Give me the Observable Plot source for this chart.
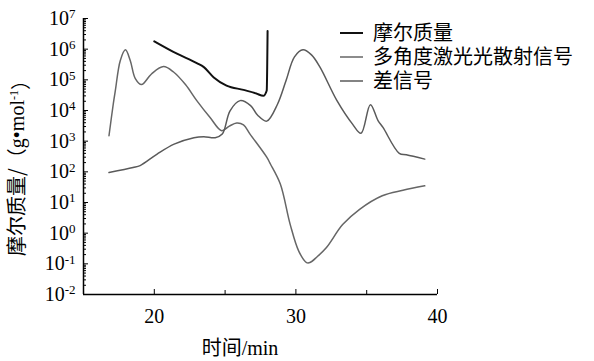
<!DOCTYPE html>
<html>
<head>
<meta charset="utf-8">
<script src="https://cdn.jsdelivr.net/npm/d3@7"></script>
<script src="https://cdn.jsdelivr.net/npm/@observablehq/plot@0.6"></script>
<style>
  html, body { margin: 0; padding: 0; background: #fff; }
  #chart svg { display: block; }
</style>
</head>
<body>
<div id="chart"></div>
<script>
// ---- data ----
const xDomain = [15, 40];
const yDomain = [1e-2, 1e7];
const xTicks = [20, 30, 40];
const xMinorTicks = [25, 35];
const yExponents = [-2, -1, 0, 1, 2, 3, 4, 5, 6, 7];

const seriesNames = ["摩尔质量", "多角度激光光散射信号", "差信号"];
const seriesColors = ["#111111", "#666666", "#5a5a5a"];

// 摩尔质量
const massTime  = [20.0, 21.6, 23.0, 23.5, 24.2, 25.1, 26.3, 27.2, 27.7, 27.94, 28.0];
const massValue = [1.8e6, 7.1e5, 3.5e5, 2.6e5, 1.2e5, 6.5e4, 4.7e4, 3.6e4, 3.0e4, 4.5e4, 3.9e6];

// 多角度激光光散射信号
const mallsTime  = [16.8, 17.1, 17.25, 17.6, 17.96, 18.3, 18.66, 19.1, 19.8, 20.65, 21.36, 22.2, 23.0, 23.94, 24.76, 25.3, 25.82, 26.3, 26.76, 27.94, 28.2, 28.9, 29.6, 30.2, 30.75, 30.99, 31.5, 32.16, 33.3, 34.5, 36.1, 37.56, 39.1];
const mallsValue = [1.5e3, 1.6e4, 4.5e4, 4.3e5, 9.5e5, 4.3e5, 1.1e5, 7e4, 1.55e5, 2.7e5, 1.8e5, 7e4, 2.1e4, 5.9e3, 2.2e3, 3.1e3, 3.9e3, 3.4e3, 1.7e3, 3.0e2, 1.8e2, 40, 1.9, 0.26, 0.11, 0.11, 0.17, 0.34, 1.9, 6, 16.6, 25, 35];

// 差信号
const diffTime  = [16.8, 18.5, 19.0, 20.2, 21.4, 22.8, 23.5, 24.3, 24.8, 25.35, 26.06, 26.8, 27.3, 27.94, 28.7, 29.3, 29.9, 30.5, 31.1, 31.7, 32.9, 34.0, 34.6, 35.26, 35.8, 36.15, 37.3, 37.8, 39.1];
const diffValue = [95, 138, 160, 380, 800, 1.3e3, 1.4e3, 1.3e3, 1.7e3, 9.8e3, 2.1e4, 1.45e4, 7e3, 4.5e3, 1.6e4, 9.3e4, 5.6e5, 9.5e5, 6.5e5, 2.6e5, 2.1e4, 3.6e3, 1.8e3, 1.55e4, 4.7e3, 2.8e3, 400, 360, 260];

// ---- build ----
const toRows = (t, v) => t.map((x, i) => ({x, y: v[i]}));
const massRows = toRows(massTime, massValue);
const mallsRows = toRows(mallsTime, mallsValue);
const diffRows = toRows(diffTime, diffValue);

const yMajor = yExponents.map(e => Math.pow(10, e));
const yMinor = [];
for (let e = yExponents[0]; e < yExponents[yExponents.length - 1]; e++) {
  for (let m = 2; m <= 9; m++) yMinor.push(m * Math.pow(10, e));
}

const serif = "'Liberation Serif', 'Times New Roman', serif";

const chart = Plot.plot({
  width: 594,
  height: 361,
  marginLeft: 83,
  marginRight: 157,
  marginTop: 18,
  marginBottom: 67,
  style: {fontFamily: serif, fontSize: "20px", color: "#000", background: "#fff", overflow: "visible"},
  x: {domain: xDomain},
  y: {type: "log", domain: yDomain},
  marks: [
    Plot.ruleX([xDomain[0]], {stroke: "#000", strokeWidth: 1.5}),
    Plot.ruleY([yDomain[0]], {stroke: "#000", strokeWidth: 1.5}),
    Plot.axisY({ticks: yMajor, tickSize: -5, tickPadding: 13, tickFormat: d => String(Math.round(Math.log10(d))), label: null, fontSize: 20}),
    Plot.axisY({ticks: yMinor, tickSize: -3, tickFormat: () => "", label: null}),
    Plot.axisX({ticks: xTicks, tickSize: -5, tickPadding: 19, tickFormat: d => String(d), label: null, fontSize: 20}),
    Plot.axisX({ticks: xMinorTicks, tickSize: -4, tickFormat: () => "", label: null}),
    Plot.line(mallsRows, {x: "x", y: "y", curve: "catmull-rom", stroke: seriesColors[1], strokeWidth: 1.5}),
    Plot.line(diffRows, {x: "x", y: "y", curve: "catmull-rom", stroke: seriesColors[2], strokeWidth: 1.5}),
    Plot.line(massRows, {x: "x", y: "y", curve: "monotone-x", stroke: seriesColors[0], strokeWidth: 2})
  ]
});

document.getElementById("chart").appendChild(chart);
const svg = d3.select(chart);

// y tick labels as 10^n with superscript
svg.selectAll("g[aria-label='y-axis tick label'] text").each(function () {
  const exp = this.textContent.trim();
  if (!exp) return;
  const t = d3.select(this);
  t.text("");
  t.append("tspan").text("10");
  t.append("tspan").attr("dy", "-0.5em").attr("font-size", "13px").text(exp);
});

// axis titles
svg.append("text")
  .attr("transform", "translate(24,163) rotate(-90)")
  .attr("text-anchor", "middle")
  .attr("font-family", serif + ", 'Noto Sans CJK SC'")
  .attr("font-size", 20)
  .attr("fill", "#000")
  .call(t => {
    t.append("tspan").attr("font-family", "'Noto Sans CJK SC'").text("摩尔质量/（");
    t.append("tspan").text("g•mol");
    t.append("tspan").attr("dy", "-0.5em").attr("font-size", "12px").text("-1");
    t.append("tspan").attr("dy", "0.5em").attr("font-family", "'Noto Sans CJK SC'").text("）");
  });

svg.append("text")
  .attr("x", 240)
  .attr("y", 355)
  .attr("text-anchor", "middle")
  .attr("font-size", 20)
  .attr("fill", "#000")
  .call(t => {
    t.append("tspan").attr("font-family", "'Noto Sans CJK SC'").text("时间");
    t.append("tspan").attr("font-family", serif).text("/min");
  });

// legend
const lg = svg.append("g").attr("text-anchor", "start");
seriesNames.forEach((name, i) => {
  const y = 33 + i * 24;
  lg.append("line").attr("x1", 340).attr("x2", 363).attr("y1", y).attr("y2", y)
    .attr("stroke", seriesColors[i]).attr("stroke-width", i === 0 ? 2 : 1.5);
  lg.append("text").attr("x", 373).attr("y", y).attr("dy", "0.36em")
    .attr("text-anchor", "start")
    .attr("font-family", "'Noto Sans CJK SC'").attr("font-size", 20).attr("fill", "#000")
    .text(name);
});
</script>
</body>
</html>
